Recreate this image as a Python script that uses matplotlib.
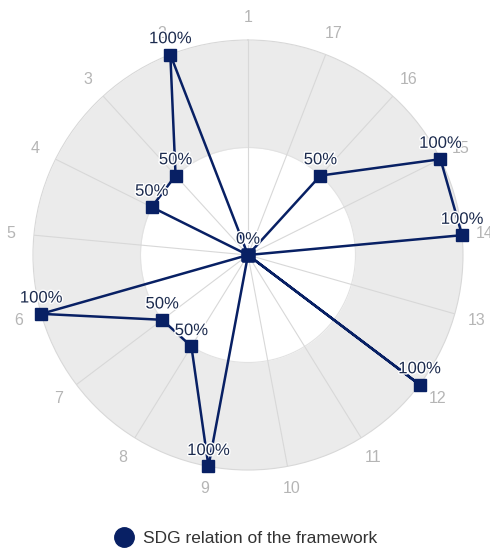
import numpy as np
import matplotlib.pyplot as plt
from matplotlib.lines import Line2D
import matplotlib.patheffects as pe

plt.rcParams['font.family'] = ['Liberation Sans', 'DejaVu Sans']

categories = [str(i) for i in range(1, 18)]
values = [0, 100, 50, 50, 0, 100, 50, 50, 100, 0, 0, 100, 0, 100, 100, 50, 0]
series_name = 'SDG relation of the framework'

navy = '#082064'
n = len(categories)
theta = np.arange(n) * 2 * np.pi / n

fig = plt.figure(figsize=(4.9, 5.48), dpi=100)
ax = fig.add_axes([0.0673, 0.1423, 0.8776, 0.7847], projection='polar')
ax.set_theta_zero_location('N')
ax.set_theta_direction(1)
ax.set_ylim(0, 100)

# gray band 50-100%
tt = np.linspace(0, 2 * np.pi, 400)
ax.fill_between(tt, 50, 100, color='#ebebeb', zorder=0, linewidth=0)
ax.plot(tt, np.full_like(tt, 50), color='#e2e2e2', lw=0.8, zorder=0.5)

ax.set_yticks([])
ax.set_xticks(theta)
ax.set_xticklabels(categories, color='#b5b5b5', fontsize=11.5)
ax.tick_params(axis='x', pad=6)
ax.xaxis.grid(True, color='#d8d8d8', lw=0.8)
ax.spines['polar'].set_color('#d8d8d8')
ax.spines['polar'].set_linewidth(0.8)

th_closed = np.append(theta, theta[0])
v_closed = np.append(values, values[0])
ax.plot(th_closed, v_closed, color=navy, lw=1.8, marker='s', markersize=8.5,
        markerfacecolor=navy, markeredgecolor=navy, zorder=3, clip_on=False)

shown_zero = False
for t, v in zip(theta, values):
    if v == 0:
        if shown_zero:
            continue
        shown_zero = True
    txt = ax.annotate(f'{v}%', (t, v), xytext=(0, 6), textcoords='offset points',
                      ha='center', va='bottom', fontsize=12, color='#1c2b4e',
                      zorder=4, annotation_clip=False)
    txt.set_path_effects([pe.withStroke(linewidth=2, foreground='white')])

handle = Line2D([], [], marker='o', color='none', markerfacecolor=navy,
                markeredgecolor=navy, markersize=14)
fig.legend([handle], [series_name], loc='lower center', bbox_to_anchor=(0.5, -0.025),
           frameon=False, fontsize=12.5, handletextpad=0.5, handlelength=1.2,
           labelcolor='#333333')

fig.savefig('out.png', dpi=100)
